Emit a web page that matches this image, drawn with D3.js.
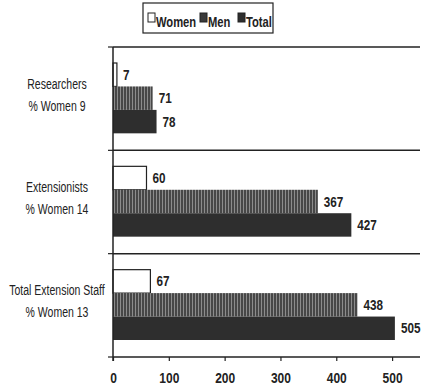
<!DOCTYPE html>
<html>
<head>
<script src="https://d3js.org/d3.v7.min.js"></script>
<style>
  body { margin: 0; background: #fff; }
  text { font-family: "Liberation Sans", Arial, sans-serif; fill: #222; }
</style>
</head>
<body>
<svg id="chart" width="426" height="386"></svg>
<script>
const groups = ["Researchers", "Extensionists", "Total Extension Staff"];
const pctWomen = [9, 14, 13];
const series = ["Women", "Men", "Total"];
const women = [7, 60, 67];
const men = [71, 367, 438];
const total = [78, 427, 505];
const xTicks = [0, 100, 200, 300, 400, 500];

const svg = d3.select("#chart");
const margin = { top: 47, right: 6, bottom: 29, left: 113 };
const width = 426 - margin.left - margin.right;
const height = 386 - margin.top - margin.bottom;

// narrow text: horizontally squeezed
function narrow(sel, x, y, sx) {
  sel.attr("transform", (d, i) => {
    const xx = typeof x === "function" ? x(d, i) : x;
    const yy = typeof y === "function" ? y(d, i) : y;
    return `translate(${xx},${yy}) scale(${sx},1)`;
  });
}

const defs = svg.append("defs");
const pat = defs.append("pattern")
  .attr("id", "stripes")
  .attr("patternUnits", "userSpaceOnUse")
  .attr("width", 3).attr("height", 4);
pat.append("rect").attr("width", 3).attr("height", 4).attr("fill", "#474747");
pat.append("rect").attr("x", 1).attr("width", 1).attr("height", 4).attr("fill", "#8c8c8c");

const fills = { Women: "#fff", Men: "url(#stripes)", Total: "#2e2e2e" };

const x = d3.scaleLinear().domain([0, 550]).range([0, width]);
const y0 = d3.scaleBand().domain(groups).range([0, height]);
const y1 = d3.scaleBand().domain(series).range([16, y0.bandwidth() - 17]);

const g = svg.append("g").attr("transform", `translate(${margin.left},${margin.top})`);

const data = groups.map((name, i) => ({
  name, pct: pctWomen[i],
  values: [
    { key: "Women", v: women[i] },
    { key: "Men", v: men[i] },
    { key: "Total", v: total[i] }
  ]
}));

// separators
const bounds = [0, 1, 2, 3].map(i => i * y0.bandwidth());
g.selectAll("line.sep").data(bounds).join("line")
  .attr("class", "sep")
  .attr("x1", 0).attr("x2", width)
  .attr("y1", d => d).attr("y2", d => d)
  .attr("stroke", "#222").attr("stroke-width", 1.5);

g.selectAll("line.ytick").data(bounds).join("line")
  .attr("class", "ytick")
  .attr("x1", -5).attr("x2", 0)
  .attr("y1", d => d).attr("y2", d => d)
  .attr("stroke", "#222").attr("stroke-width", 1.2);

const grp = g.selectAll("g.grp").data(data).join("g")
  .attr("class", "grp")
  .attr("transform", d => `translate(0,${y0(d.name)})`);

grp.selectAll("rect").data(d => d.values).join("rect")
  .attr("x", 0)
  .attr("y", d => y1(d.key))
  .attr("width", d => x(d.v))
  .attr("height", y1.bandwidth())
  .attr("fill", d => fills[d.key])
  .attr("stroke", d => d.key === "Women" ? "#222" : "none")
  .attr("stroke-width", 1.2);

grp.selectAll("text.val").data(d => d.values).join("text")
  .attr("class", "val")
  .attr("font-size", 15).attr("font-weight", "bold")
  .text(d => d.v)
  .call(narrow, d => x(d.v) + 6, d => y1(d.key) + y1.bandwidth() / 2 + 5, 0.78);

grp.append("text")
  .attr("text-anchor", "middle").attr("font-size", 14)
  .text(d => d.name)
  .call(narrow, -56, y0.bandwidth() / 2 - 10, 0.75);
grp.append("text")
  .attr("text-anchor", "middle").attr("font-size", 14)
  .text(d => "% Women " + d.pct)
  .call(narrow, -56, y0.bandwidth() / 2 + 12, 0.75);

// y axis line
g.append("line").attr("x1", 0).attr("x2", 0).attr("y1", 0).attr("y2", height + 4)
  .attr("stroke", "#222").attr("stroke-width", 1.5);

// x axis
const xAxis = g.append("g").attr("transform", `translate(0,${height})`)
  .call(d3.axisBottom(x).tickValues(xTicks).tickSize(4).tickSizeOuter(0));
xAxis.select(".domain").remove();
xAxis.selectAll("line").attr("stroke", "#222").attr("stroke-width", 1.2);
xAxis.selectAll("text")
  .attr("font-size", 15).attr("font-weight", "bold").attr("fill", "#222")
  .attr("y", 0).attr("dy", 0)
  .style("font-family", '"Liberation Sans", Arial, sans-serif')
  .attr("transform", "translate(0,26) scale(0.8,1)");

// legend
const lg = svg.append("g").attr("transform", "translate(143,3)");
lg.append("rect").attr("width", 130).attr("height", 30)
  .attr("fill", "#fff").attr("stroke", "#222").attr("stroke-width", 1.2);
const items = [
  { key: "Women", x: 5 },
  { key: "Men", x: 57 },
  { key: "Total", x: 95 }
];
lg.selectAll("rect.sw").data(items).join("rect")
  .attr("class", "sw")
  .attr("x", d => d.x).attr("y", 10).attr("width", 7).attr("height", 9)
  .attr("fill", d => d.key === "Men" ? "#3a3a3a" : fills[d.key])
  .attr("stroke", "#222").attr("stroke-width", 1);
lg.selectAll("text.lt").data(items).join("text")
  .attr("class", "lt")
  .attr("font-size", 14).attr("font-weight", "bold")
  .text(d => d.key)
  .call(narrow, d => d.x + 8, 24, 0.8);
</script>
</body>
</html>
